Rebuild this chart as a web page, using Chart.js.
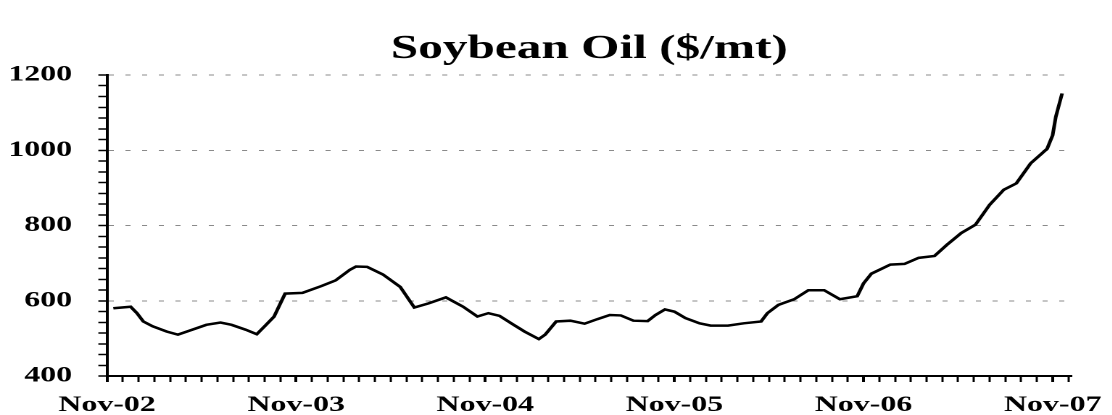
<!DOCTYPE html>
<html>
<head>
<meta charset="utf-8">
<script src="https://cdn.jsdelivr.net/npm/chart.js@4"></script>
<style>
  html, body { margin: 0; padding: 0; background: #fff; overflow: hidden; }
  /* the source picture is stretched sideways, so draw narrow and widen */
  #wrap { width: 767px; height: 415px; transform: scaleX(1.45); transform-origin: 0 0; }
</style>
</head>
<body>
<div id="wrap"><canvas id="chart"></canvas></div>
<script>
// months counted from Nov-02 (0) to Nov-07 (60)
const months = [0.4, 1.5, 1.9, 2.3, 2.9, 3.8, 4.5, 5.4, 6.3, 7.2, 7.9, 8.8, 9.5, 10.0, 10.6, 11.3,
  12.4, 13.6, 14.5, 15.4, 15.8, 16.5, 17.5, 18.6, 19.5, 20.4, 21.5, 22.6, 23.5, 24.2, 24.9,
  25.8, 26.5, 27.4, 27.8, 28.5, 29.4, 30.3, 31.1, 31.9, 32.6, 33.4, 34.3, 34.8, 35.4, 36.0,
  36.7, 37.6, 38.3, 39.4, 40.4, 41.5, 41.9, 42.6, 43.6, 44.5, 45.5, 46.5, 47.6, 48.0, 48.5,
  49.7, 50.6, 51.5, 52.5, 53.3, 54.2, 55.1, 56.0, 56.9, 57.7, 58.6, 59.65, 60.0, 60.2, 60.6];
const prices = [580, 584, 567, 545, 532, 518, 510, 523, 536, 542, 536, 523, 511, 532, 558, 619,
  621, 639, 654, 682, 691, 690, 670, 637, 582, 593, 609, 584, 558, 567, 560,
  536, 518, 498, 510, 545, 547, 539, 551, 562, 561, 547, 546, 562, 577, 571,
  554, 540, 534, 534, 540, 545, 567, 589, 604, 628, 628, 604, 612, 646, 672,
  696, 698, 714, 719, 749, 780, 802, 855, 895, 912, 965, 1004, 1040, 1089, 1151];
const yearLabels = ["Nov-02", "Nov-03", "Nov-04", "Nov-05", "Nov-06", "Nov-07"];
const yTickLabels = [400, 600, 800, 1000, 1200];

const serif = "'Liberation Serif', 'Times New Roman', serif";
const isMajorY = (v) => Math.abs(v - Math.round(v / 200) * 200) < 0.01;

new Chart(document.getElementById("chart"), {
  type: "line",
  data: {
    datasets: [{
      label: "Soybean Oil",
      data: months.map((m, i) => ({ x: m, y: prices[i] })),
      borderColor: "#000",
      borderWidth: 2.5,
      pointRadius: 0,
      tension: 0,
      fill: false,
    }],
  },
  options: {
    responsive: true,
    maintainAspectRatio: false,
    animation: false,
    devicePixelRatio: 2,
    layout: { padding: { left: 0, right: 28, top: 0, bottom: 0 } },
    plugins: {
      legend: { display: false },
      tooltip: { enabled: false },
      title: {
        display: true,
        fullSize: false,
        text: "Soybean Oil ($/mt)",
        color: "#000",
        font: { family: serif, size: 34, weight: "bold", lineHeight: 1 },
        padding: { top: 32, bottom: 9 },
      },
    },
    scales: {
      x: {
        type: "linear",
        min: 0,
        max: 61.2,
        afterBuildTicks: (axis) => {
          axis.ticks = [];
          for (let m = 0; m <= 61; m++) axis.ticks.push({ value: m });
        },
        afterFit: (axis) => { axis.height = 39; },
        ticks: {
          autoSkip: false,
          maxRotation: 0,
          padding: 10,
          color: "#000",
          font: { family: serif, size: 22, weight: "bold" },
          callback: (v) => (v % 12 === 0 ? yearLabels[v / 12] : ""),
        },
        grid: {
          drawOnChartArea: false,
          tickLength: 6,
          tickColor: "#000",
          tickWidth: (ctx) => (ctx.tick && ctx.tick.value % 12 === 0 ? 2 : 1.5),
        },
        border: { color: "#000", width: 2 },
      },
      y: {
        min: 400,
        max: 1200,
        afterBuildTicks: (axis) => {
          axis.ticks = [];
          for (let k = 0; k <= 28; k++) axis.ticks.push({ value: 400 + (k * 200) / 7 });
        },
        afterFit: (axis) => { axis.width = 73.8; },
        ticks: {
          autoSkip: false,
          padding: 18,
          color: "#000",
          font: { family: serif, size: 22, weight: "bold" },
          callback: (v) => {
            const r = Math.round(v);
            return isMajorY(v) && yTickLabels.includes(r) ? String(r) : "";
          },
        },
        grid: {
          tickLength: 6,
          tickColor: "#000",
          tickWidth: 1.5,
          color: (ctx) => (ctx.tick && isMajorY(ctx.tick.value) && ctx.tick.value > 401 ? "#8a8a8a" : "rgba(0,0,0,0)"),
          lineWidth: 1,
        },
        border: { color: "#000", width: 2, dash: [3.5, 8] },
      },
    },
  },
});
</script>
</body>
</html>
